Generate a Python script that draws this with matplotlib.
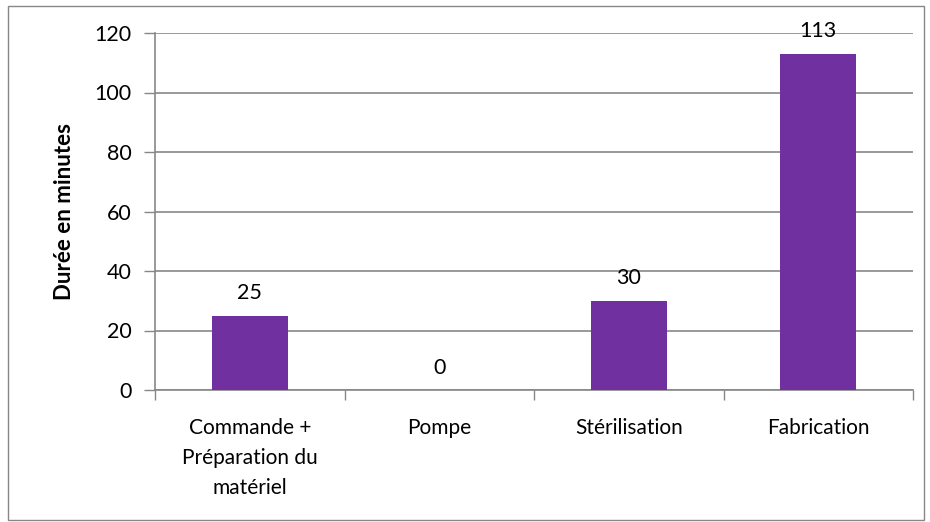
import matplotlib.pyplot as plt
from matplotlib.patches import Rectangle

plt.rcParams['font.family'] = ['Lato', 'DejaVu Sans']

categories = ["Commande +\nPréparation du\nmatériel", "Pompe", "Stérilisation", "Fabrication"]
durees = [25, 0, 30, 113]
yticks = [0, 20, 40, 60, 80, 100, 120]

fig = plt.figure(figsize=(9.3, 5.22), dpi=100)
ax = fig.add_axes([155/930, 1 - 390/522, 758/930, 357/522])

# cadre du graphique
fig.patches.append(Rectangle((8/930, 2/522), 916/930, 514/522, transform=fig.transFigure,
                             fill=False, edgecolor="#878787", linewidth=1))

x = range(len(categories))
bars = ax.bar(x, durees, width=0.4, color="#7030A0", zorder=3)
for i, v in enumerate(durees):
    ax.text(i, v + 4.2, str(v), ha="center", va="bottom", fontsize=15.5, color="black", zorder=4)

ax.set_xlim(-0.5, len(categories) - 0.5)
ax.set_ylim(0, 120)
ax.set_yticks(yticks)
ax.set_xticks([i + 0.5 for i in range(-1, len(categories))], minor=False)
ax.set_xticklabels([""] * (len(categories) + 1))
ax.set_xticks(list(x), minor=True)
ax.set_xticklabels(categories, minor=True, fontsize=15, linespacing=1.62, va="top")
ax.tick_params(axis="x", which="minor", length=0, pad=20)
ax.tick_params(axis="x", which="major", length=7, color="#878787", width=1)
ax.tick_params(axis="y", length=8, color="#878787", width=1, labelsize=15.5, pad=9)

ax.grid(axis="y", color="#878787", linewidth=1.2, zorder=0)
for s in ["top", "right"]:
    ax.spines[s].set_visible(False)
ax.spines["left"].set_color("#878787")
ax.spines["bottom"].set_color("#878787")
ax.spines["left"].set_linewidth(1.2)
ax.spines["bottom"].set_linewidth(1.2)

ax.set_ylabel("Durée en minutes", fontsize=16, fontweight="bold", labelpad=14)

fig.savefig("out.png", dpi=100)
